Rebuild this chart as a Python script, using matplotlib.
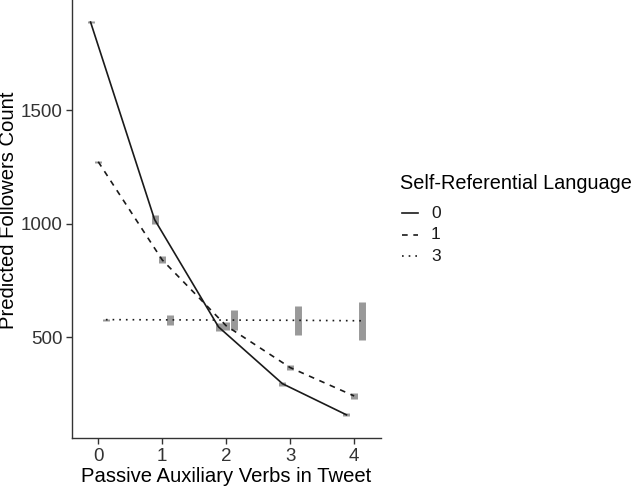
import matplotlib
matplotlib.use("Agg")
import matplotlib.pyplot as plt
from matplotlib.lines import Line2D
import numpy as np

plt.rcParams['font.family'] = ['Liberation Sans', 'DejaVu Sans']

x_vals = [0, 1, 2, 3, 4]
groups = ['0', '1', '3']
dodge = {'0': -0.12, '1': 0.0, '3': 0.12}
pred = {
    '0': [1888, 1019, 546, 296, 159],
    '1': [1273, 841, 551, 367, 242],
    '3': [578, 577, 576, 575, 573],
}
err = {
    '0': [4, 20, 18, 9, 6],
    '1': [4, 15, 18, 12, 12],
    '3': [5, 22, 43, 64, 84],
}
styles = {'0': '-', '1': (0, (3.4, 3.4)), '3': (0, (1, 3))}
legend_title = 'Self-Referential Language'

W, H = 633, 487
fig = plt.figure(figsize=(W/100, H/100), dpi=100)
ax = fig.add_axes([72/W, 1-438/H, (381-72)/W, 438/H])

for g in groups:
    xs = np.array(x_vals) + dodge[g]
    ys = np.array(pred[g])
    es = np.array(err[g])
    ax.vlines(xs, ys - es, ys + es, color='#999999', linewidth=5, zorder=1)
    ax.plot(xs, ys, color='#1a1a1a', linestyle=styles[g], linewidth=1.2, zorder=2)

ax.set_xlim(-0.41, 4.42)
ax.set_ylim(57, 1985)
ax.set_xticks(x_vals)
ax.set_yticks([500, 1000, 1500])
for s in ['top', 'right']:
    ax.spines[s].set_visible(False)
for s in ['left', 'bottom']:
    ax.spines[s].set_linewidth(1.0)
    ax.spines[s].set_color('#333333')
ax.tick_params(axis='both', direction='out', length=4, width=1.0, color='#333333',
               labelsize=13.5, labelcolor='#333333', pad=3)
ax.set_xlabel('Passive Auxiliary Verbs in Tweet', fontsize=14.6, color='black', labelpad=2)
ax.set_ylabel('Predicted Followers Count', fontsize=14.6, color='black')
ax.yaxis.set_label_coords((9-72)/309, (438-210)/438)
ax.yaxis.label.set_va('center')

# legend (manual layout, ggplot style)
fig.text(400/W, 1-183/H, legend_title, fontsize=14.3, ha='left', va='center')
for i, g in enumerate(groups):
    yc = 1 - (213 + 21.7*i)/H
    fig.add_artist(Line2D([402/W, 418/W], [yc, yc], color='#1a1a1a',
                          linestyle=styles[g], linewidth=1.2, transform=fig.transFigure))
    fig.text(431/W, yc, g, fontsize=12.5, ha='left', va='center', color='#1a1a1a')

fig.savefig('out.png', dpi=100)
